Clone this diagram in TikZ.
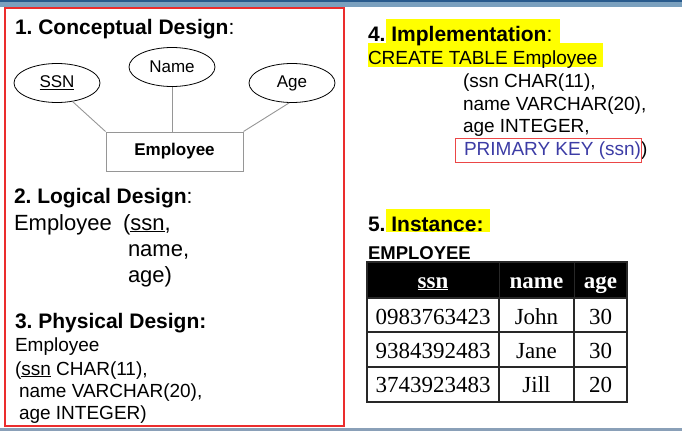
\documentclass[tikz,border=0pt]{standalone}
\usepackage{fontspec}
\setmainfont{Liberation Sans}
\newfontfamily\tabserif{Liberation Serif}
\usetikzlibrary{shapes.geometric}
\frenchspacing
\definecolor{barDark}{RGB}{40,90,140}
\definecolor{barLight}{RGB}{122,160,190}
\definecolor{barBottom}{RGB}{138,160,184}
\definecolor{frameRed}{RGB}{235,45,45}
\definecolor{keyRed}{RGB}{235,70,70}
\definecolor{keyBlue}{RGB}{60,60,165}
\definecolor{hiYellow}{RGB}{255,255,0}
\definecolor{lineGray}{RGB}{150,150,150}
\definecolor{gridDark}{RGB}{40,40,40}
\tikzset{
  txt/.style={anchor=base west, inner sep=0pt, outer sep=0pt},
  head/.style={txt, font=\fontsize{21}{24}\selectfont\bfseries\frenchspacing},
  body/.style={txt, font=\fontsize{19}{22}\selectfont},
  big/.style={txt, font=\fontsize{22}{26}\selectfont},
  attr/.style={ellipse, draw=black, line width=0.8pt, minimum width=86pt, minimum height=39pt, inner sep=0pt, font=\fontsize{17}{20}\selectfont},
  entity/.style={rectangle, draw=lineGray, line width=1pt, minimum width=137pt, minimum height=39pt, inner sep=0pt, font=\fontsize{17}{20}\selectfont\bfseries},
  link/.style={draw=lineGray, line width=0.9pt},
  cell/.style={inner sep=0pt, anchor=base, font=\fontsize{23}{26}\tabserif},
  hcell/.style={cell, text=white, font=\fontsize{23}{26}\tabserif\bfseries}
}
\begin{document}
\begin{tikzpicture}[x=1pt, y=-1pt]
\useasboundingbox (0,0) rectangle (682,431);
% bars
\fill[barLight] (0,0) rectangle (682,7);
\fill[barDark] (0,0) rectangle (682,2);
\fill[barBottom] (0,428) rectangle (682,431);
% red frame
\draw[frameRed, line width=1.2pt] (5,8) rectangle (344,426);

% 1. Conceptual design
\node[head] (h1) at (15,34) {1. Conceptual Design\mdseries:};
\node[attr] (ssn) at (57,83) {\underline{SSN}};
\node[attr] (name) at (172,67) {Name};
\node[attr] (age) at (292,83) {Age};
\node[entity] (emp) at (174.5,151.5) {Employee};
\draw[link] (ssn.-50) -- (emp.north west);
\draw[link] (name.south) -- (name.south |- emp.north);
\draw[link] (age.262) -- (emp.north east);

% 2. Logical design
\node[head] (h2) at (14,203) {2. Logical Design\mdseries:};
\node[big] (l1a) at (14,230) {Employee};
\node[big] (l1b) at (123,230) {(\underline{ssn},};
\node[big] (l2) at (128,256) {name,};
\node[big] (l3) at (128,282) {age)};

% 3. Physical design
\node[head] (h3) at (15,328) {3. Physical Design:};
\node[body] (p1) at (15,351) {Employee};
\node[body] (p2) at (15,375) {(\underline{ssn} CHAR(11),};
\node[body] (p3) at (19,397) {name VARCHAR(20),};
\node[body] (p4) at (19,419) {age INTEGER)};

% 4. Implementation
\fill[hiYellow] (386,19) rectangle (560,43);
\fill[hiYellow] (368,43) rectangle (603,67);
\node[head] (h4) at (368,41) {4. Implementation\mdseries:};
\node[body] (i1) at (368,64) {CREATE TABLE Employee};
\node[body] (i2) at (463,87) {(ssn CHAR(11),};
\node[body] (i3) at (463,110) {name VARCHAR(20),};
\node[body] (i4) at (463,132.5) {age INTEGER,};
\node[body, text=keyBlue] (i5) at (464,155) {PRIMARY KEY (ssn)};
\node[body] (i6) at (i5.base east) [anchor=base west] {)};
\draw[keyRed, line width=1pt] (455.5,138) rectangle (641,162.5);

% 5. Instance
\fill[hiYellow] (386,209) rectangle (490,232);
\node[head] (h5) at (368,231) {5. Instance:};
\node[txt, font=\fontsize{18.5}{22}\selectfont\bfseries] (tname) at (368,259) {EMPLOYEE};

% table
\fill[black] (367,262) rectangle (627,298);
\draw[gridDark, line width=0.8pt] (499,262) -- (499,298) (574,262) -- (574,298);
\draw[gridDark, line width=1.3pt] (367,298) -- (627,298) (367,332) -- (627,332) (367,367) -- (627,367);
\draw[gridDark, line width=1.3pt] (499,298) -- (499,402) (574,298) -- (574,402);
\draw[gridDark, line width=1.6pt] (367,262) rectangle (627,402);
\node[hcell] (hs) at (433,288) {\underline{ssn}};
\node[hcell] (hn) at (536.5,288) {name};
\node[hcell] (ha) at (600.5,288) {age};
\node[cell] (r1s) at (433,324) {0983763423};
\node[cell] (r1n) at (536.5,324) {John};
\node[cell] (r1a) at (600.5,324) {30};
\node[cell] (r2s) at (433,358) {9384392483};
\node[cell] (r2n) at (536.5,358) {Jane};
\node[cell] (r2a) at (600.5,358) {30};
\node[cell] (r3s) at (433,392) {3743923483};
\node[cell] (r3n) at (536.5,392) {Jill};
\node[cell] (r3a) at (600.5,392) {20};
\end{tikzpicture}
\end{document}
